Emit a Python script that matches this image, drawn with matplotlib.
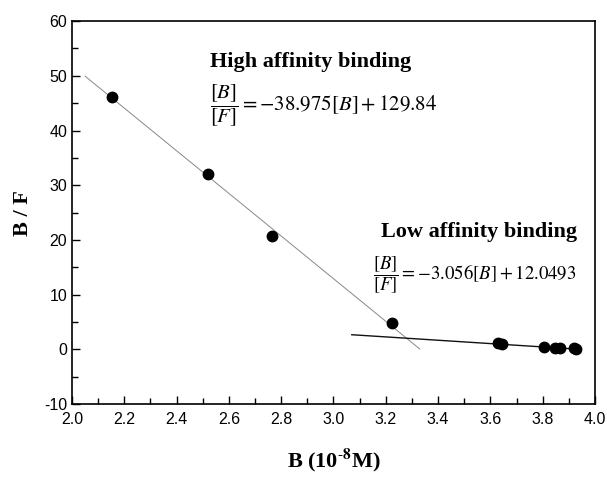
import matplotlib
matplotlib.use("Agg")
import matplotlib.pyplot as plt
import numpy as np
from matplotlib.ticker import MultipleLocator

# data
b_high = [2.154, 2.521, 2.765, 3.224]
bf_high = [46.2, 32.1, 20.8, 4.9]
b_low = [3.630, 3.645, 3.806, 3.847, 3.866, 3.921, 3.926]
bf_low = [1.2, 0.9, 0.39, 0.2, 0.2, 0.3, 0.12]

# fitted lines (slope, intercept, x range)
high_fit = (-38.975, 129.84, 2.05, 3.33)
low_fit = (-3.056, 12.0493, 3.07, 3.945)

plt.rcParams['mathtext.fontset'] = 'stix'
plt.rcParams['axes.unicode_minus'] = False

fig = plt.figure(figsize=(6.07, 4.80), dpi=100)
ax = fig.add_axes([0.1186, 0.1583, 0.8616, 0.7977])

for slope, icpt, x0, x1, col, lw in [high_fit + ('#888888', 0.7), low_fit + ('#111111', 1.0)]:
    xs = np.array([x0, x1])
    ax.plot(xs, slope * xs + icpt, color=col, lw=lw, zorder=2)

ax.plot(b_high, bf_high, 'o', color='k', ms=7.5, zorder=3)
ax.plot(b_low, bf_low, 'o', color='k', ms=7.5, zorder=3)

ax.set_xlim(2.0, 4.0)
ax.set_ylim(-10, 60)
ax.xaxis.set_major_locator(MultipleLocator(0.2))
ax.xaxis.set_minor_locator(MultipleLocator(0.1))
ax.yaxis.set_major_locator(MultipleLocator(10))
ax.yaxis.set_minor_locator(MultipleLocator(5))
ax.tick_params(which='both', direction='in', top=False, right=False,
               labelsize=11.5, width=1)
ax.tick_params(which='major', length=6)
ax.tick_params(which='minor', length=4)
ax.tick_params(axis='x', pad=6)
for lab in ax.get_xticklabels() + ax.get_yticklabels():
    lab.set_family('Liberation Sans')
ax.xaxis.set_major_formatter(plt.FormatStrFormatter('%.1f'))
for s in ax.spines.values():
    s.set_linewidth(1.2)

ax.set_xlabel(r'B (10$^{\mathbf{\text{-}8}}$M)', family='Liberation Serif',
              fontweight='bold', fontsize=16, labelpad=14)
ax.set_ylabel('B / F', family='Liberation Serif', fontweight='bold',
              fontsize=16, labelpad=8)

ax.text(2.527, 52.5, 'High affinity binding', family='Liberation Serif',
        fontweight='bold', fontsize=16, va='center')
ax.text(2.527, 44.5, r'$\dfrac{[B]}{[F]} = -38.975[B] + 129.84$',
        fontsize=15, va='center')
ax.text(3.18, 21.5, 'Low affinity binding', family='Liberation Serif',
        fontweight='bold', fontsize=16, va='center')
ax.text(3.151, 13.5, r'$\dfrac{[B]}{[F]} = -3.056[B] + 12.0493$',
        fontsize=13.5, va='center')

fig.savefig('out.png', dpi=100)
